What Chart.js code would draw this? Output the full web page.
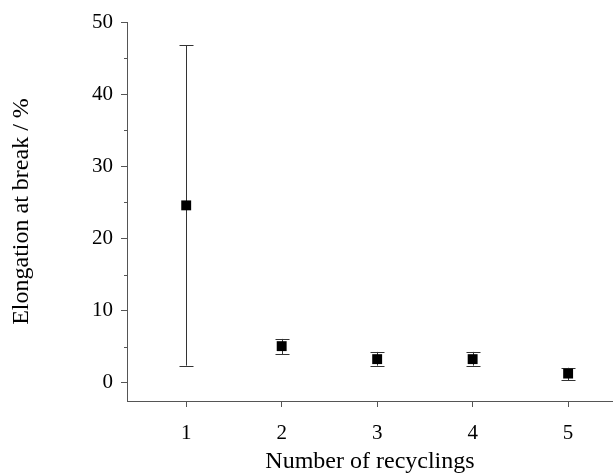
<!DOCTYPE html>
<html>
<head>
<meta charset="utf-8">
<script src="https://cdn.jsdelivr.net/npm/chart.js@4"></script>
<style>
  html, body { margin: 0; padding: 0; background: #fff; }
  #wrap { width: 613px; height: 474px; }
</style>
</head>
<body>
<div id="wrap"><canvas id="chart" width="613" height="474"></canvas></div>
<script>
// data
const recyclings = [1, 2, 3, 4, 5];
const elongation = [24.6, 5.1, 3.3, 3.3, 1.3];
const errUpper = [46.8, 6.1, 4.3, 4.3, 2.1];
const errLower = [2.4, 4.0, 2.4, 2.4, 0.4];
const yTicks = [0, 10, 20, 30, 40, 50];
const yMinorTicks = [5, 15, 25, 35, 45];

const FONT = "'Liberation Serif', 'Times New Roman', serif";
const AXIS = '#555';

// error bars + minor ticks, drawn through the scales
const errorBars = {
    id: 'errorBars',
    beforeDatasetsDraw(chart) {
        const ctx = chart.ctx;
        const xs = chart.scales.x;
        const ys = chart.scales.y;
        ctx.save();
        ctx.strokeStyle = '#333';
        ctx.lineWidth = 1;
        recyclings.forEach(function (r, i) {
            const px = Math.round(xs.getPixelForValue(r)) + 0.5;
            const top = ys.getPixelForValue(errUpper[i]);
            const bot = ys.getPixelForValue(errLower[i]);
            ctx.beginPath();
            ctx.moveTo(px, top);
            ctx.lineTo(px, bot);
            ctx.moveTo(px - 7, Math.round(top) + 0.5);
            ctx.lineTo(px + 7, Math.round(top) + 0.5);
            ctx.moveTo(px - 7, Math.round(bot) + 0.5);
            ctx.lineTo(px + 7, Math.round(bot) + 0.5);
            ctx.stroke();
        });
        // minor ticks on y axis
        ctx.strokeStyle = AXIS;
        const left = chart.chartArea.left;
        yMinorTicks.forEach(function (v) {
            const py = Math.round(ys.getPixelForValue(v)) + 0.5;
            ctx.beginPath();
            ctx.moveTo(left - 3, py);
            ctx.lineTo(left, py);
            ctx.stroke();
        });
        ctx.restore();
    }
};

const ctx = document.getElementById('chart').getContext('2d');
new Chart(ctx, {
    type: 'scatter',
    data: {
        datasets: [{
            label: 'Elongation',
            data: recyclings.map(function (r, i) { return { x: r, y: elongation[i] }; }),
            pointStyle: 'rect',
            pointRadius: 7,
            pointHoverRadius: 7,
            backgroundColor: '#000',
            borderColor: '#000',
            borderWidth: 0
        }]
    },
    options: {
        responsive: false,
        animation: false,
        layout: { autoPadding: false, padding: { top: 22, right: 0, bottom: 0, left: 0 } },
        plugins: { legend: { display: false }, tooltip: { enabled: false } },
        scales: {
            x: {
                type: 'linear',
                min: 0.38,
                max: 5.47,
                afterBuildTicks: function (s) { s.ticks = recyclings.map(function (v) { return { value: v }; }); },
                afterFit: function (s) { s.height = 73; s.paddingLeft = 0; s.paddingRight = 0; },
                grid: { display: true, drawOnChartArea: false, tickLength: 6, color: AXIS, tickColor: AXIS },
                border: { display: true, color: AXIS, width: 1 },
                ticks: { color: '#000', font: { family: FONT, size: 21 }, padding: 14, maxRotation: 0 },
                title: { display: true, text: 'Number of recyclings', color: '#000', font: { family: FONT, size: 24 }, padding: { top: 0, bottom: -2 } }
            },
            y: {
                min: -2.5,
                max: 50,
                afterBuildTicks: function (s) { s.ticks = yTicks.map(function (v) { return { value: v }; }); },
                afterFit: function (s) { s.width = 127; s.paddingTop = 0; s.paddingBottom = 0; },
                grid: { display: true, drawOnChartArea: false, tickLength: 6, color: AXIS, tickColor: AXIS },
                border: { display: true, color: AXIS, width: 1 },
                ticks: { color: '#000', font: { family: FONT, size: 21 }, padding: 8 },
                title: { display: true, text: 'Elongation at break / %', color: '#000', font: { family: FONT, size: 24 }, padding: { top: 7, bottom: 0 } }
            }
        }
    },
    plugins: [errorBars]
});
</script>
</body>
</html>
